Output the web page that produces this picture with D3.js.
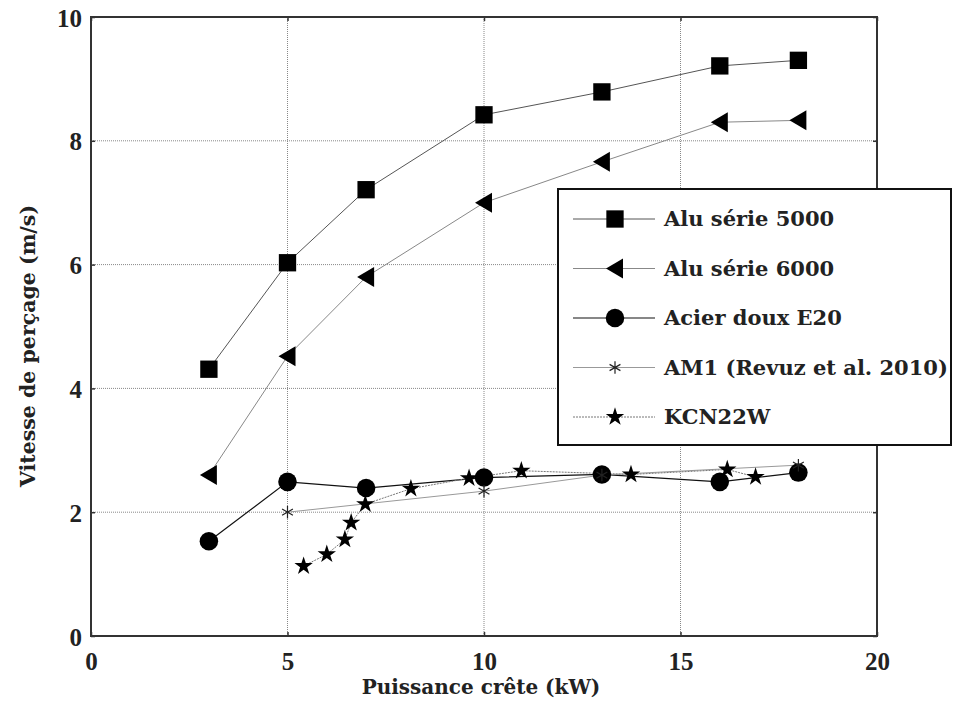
<!DOCTYPE html>
<html><head><meta charset="utf-8">
<script src="https://cdn.jsdelivr.net/npm/d3@7"></script>
<style>body{margin:0;background:#fff}svg text{font-family:"DejaVu Serif","Liberation Serif",serif;font-weight:bold;fill:#222}</style>
</head><body><svg id="c" width="955" height="704"></svg>
<script>
const xTicks=[0,5,10,15,20];
const yTicks=[0,2,4,6,8,10];
const seriesNames=["Alu série 5000","Alu série 6000","Acier doux E20","AM1 (Revuz et al. 2010)","KCN22W"];
const alu5000X=[3,5,7,10,13,16,18];
const alu5000Y=[4.31,6.03,7.21,8.42,8.79,9.21,9.30];
const alu6000X=[3,5,7,10,13,16,18];
const alu6000Y=[2.60,4.52,5.80,7.00,7.66,8.30,8.33];
const acierX=[3,5,7,10,13,16,18];
const acierY=[1.53,2.49,2.39,2.56,2.61,2.49,2.64];
const am1X=[5,10,13,18];
const am1Y=[2.00,2.34,2.60,2.76];
const kcnX=[5.41,6.0,6.46,6.62,6.98,8.14,9.62,10.95,13.74,16.19,16.91];
const kcnY=[1.13,1.32,1.56,1.83,2.13,2.38,2.55,2.67,2.61,2.69,2.57];

const svg=d3.select("#c");
const L=91,R=877,T=17,B=636;
const x=d3.scaleLinear().domain([0,20]).range([L,R]);
const y=d3.scaleLinear().domain([0,10]).range([B,T]);

// grid
const g=svg.append("g");
g.selectAll("line.gx").data(xTicks.filter(d=>d>0&&d<20)).join("line")
 .attr("x1",d=>x(d)).attr("x2",d=>x(d)).attr("y1",T).attr("y2",B)
 .attr("stroke","#888").attr("stroke-width",1).attr("stroke-dasharray","1,1");
g.selectAll("line.gy").data(yTicks.filter(d=>d>0&&d<10)).join("line")
 .attr("y1",d=>y(d)).attr("y2",d=>y(d)).attr("x1",L).attr("x2",R)
 .attr("stroke","#888").attr("stroke-width",1).attr("stroke-dasharray","1,1");

// axes
const ax=svg.append("g").attr("transform",`translate(0,${B})`)
 .call(d3.axisBottom(x).tickValues(xTicks).tickSizeInner(-4).tickSizeOuter(0).tickPadding(16));
const ay=svg.append("g").attr("transform",`translate(${L},0)`)
 .call(d3.axisLeft(y).tickValues(yTicks).tickSizeInner(-4).tickSizeOuter(0).tickPadding(9));
[ax,ay].forEach(a=>{a.select(".domain").remove();a.selectAll("line").attr("stroke","#333").attr("stroke-width",1.5);
 a.selectAll("text").style("font-family","'Liberation Serif',serif").style("font-size","25px").attr("fill","#222");});
ay.selectAll("text").attr("dy","0.36em");
// top/right ticks
svg.append("g").attr("transform",`translate(0,${T})`).call(d3.axisTop(x).tickValues(xTicks).tickSizeInner(-4).tickSizeOuter(0).tickFormat(""))
 .call(a=>{a.select(".domain").remove();a.selectAll("line").attr("stroke","#333").attr("stroke-width",1.5);});
svg.append("g").attr("transform",`translate(${R},0)`).call(d3.axisRight(y).tickValues(yTicks).tickSizeInner(-4).tickSizeOuter(0).tickFormat(""))
 .call(a=>{a.select(".domain").remove();a.selectAll("line").attr("stroke","#333").attr("stroke-width",1.5);});
svg.append("rect").attr("x",L).attr("y",T).attr("width",R-L).attr("height",B-T)
 .attr("fill","none").attr("stroke","#333").attr("stroke-width",2);

svg.append("text").attr("x",481).attr("y",694).attr("text-anchor","middle").style("font-size","20px").text("Puissance crête (kW)");
svg.append("text").attr("transform",`translate(35,346) rotate(-90)`).attr("text-anchor","middle").style("font-size","20.5px").text("Vitesse de perçage (m/s)");

const stars=d3.symbol().type(d3.symbolStar).size(105)();
const sq=d3.symbol().type(d3.symbolSquare).size(300)();
const circ=d3.symbol().type(d3.symbolCircle).size(270)();
const tri="M-9,0L8,-10L8,10Z";
const ast=d3.symbol().type(d3.symbolAsterisk).size(110)();
const series=[
 {name:seriesNames[0],xs:alu5000X,ys:alu5000Y,stroke:"#555",w:1,dash:null,sym:sq,fill:"#000",st:"none"},
 {name:seriesNames[1],xs:alu6000X,ys:alu6000Y,stroke:"#888",w:1,dash:null,sym:tri,fill:"#000",st:"none"},
 {name:seriesNames[2],xs:acierX,ys:acierY,stroke:"#111",w:1.2,dash:null,sym:circ,fill:"#000",st:"none"},
 {name:seriesNames[3],xs:am1X,ys:am1Y,stroke:"#999",w:1,dash:null,sym:ast,fill:"none",st:"#222"},
 {name:seriesNames[4],xs:kcnX,ys:kcnY,stroke:"#777",w:1,dash:"2,1",sym:stars,fill:"#000",st:"none"}
];
const line=d3.line().x(d=>x(d[0])).y(d=>y(d[1]));
const pg=svg.append("g");
series.forEach(s=>{
 const pts=s.xs.map((v,i)=>[v,s.ys[i]]);
 pg.append("path").attr("d",line(pts)).attr("fill","none").attr("stroke",s.stroke).attr("stroke-width",s.w).attr("stroke-dasharray",s.dash);
});
series.forEach(s=>{
 const pts=s.xs.map((v,i)=>[v,s.ys[i]]);
 pg.selectAll(null).data(pts).join("path").attr("d",s.sym)
  .attr("transform",d=>`translate(${x(d[0])},${y(d[1])})`)
  .attr("fill",s.fill).attr("stroke",s.st).attr("stroke-width",1.2);
});

// legend
const lg=svg.append("g");
lg.append("rect").attr("x",558).attr("y",189).attr("width",393).attr("height",256).attr("fill","#fff").attr("stroke","#111").attr("stroke-width",2);
series.forEach((s,i)=>{
 const yy=219+i*49.5;
 lg.append("line").attr("x1",573).attr("x2",655).attr("y1",yy).attr("y2",yy).attr("stroke",s.stroke).attr("stroke-width",s.w).attr("stroke-dasharray",s.dash);
 lg.append("path").attr("d",s.sym).attr("transform",`translate(615,${yy})`).attr("fill",s.fill).attr("stroke",s.st).attr("stroke-width",1.2);
 lg.append("text").attr("x",664).attr("y",yy+7).style("font-size","21px").attr("fill","#111").text(s.name);
});
</script></body></html>
